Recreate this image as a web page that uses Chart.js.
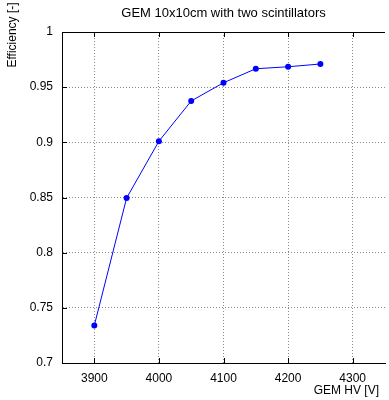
<!DOCTYPE html>
<html>
<head>
<meta charset="utf-8">
<script src="https://cdn.jsdelivr.net/npm/chart.js@4/dist/chart.umd.min.js"></script>
<style>
  html, body { margin: 0; padding: 0; background: #fff; }
  #wrap { width: 389px; height: 400px; }
</style>
</head>
<body>
<div id="wrap"><canvas id="myChart" width="389" height="400"></canvas></div>
<script>
// values
const hvValues = [3900, 3950, 4000, 4050, 4100, 4150, 4200, 4250];
const efficiency = [0.734, 0.8495, 0.901, 0.9375, 0.954, 0.9667, 0.9685, 0.971];
const xTickValues = [3900, 4000, 4100, 4200, 4300];
const yTickValues = [0.7, 0.75, 0.8, 0.85, 0.9, 0.95, 1];

const chartTitle = "GEM 10x10cm with two scintillators";
const xTitle = "GEM HV [V]";
const yTitle = "Efficiency [-]";

const fontName = "'Liberation Sans', Arial, sans-serif";
const gridColor = "#8a8a8a";

// titles, top frame line and the inward tick marks (gnuplot style)
const extrasPlugin = {
    id: "extras",
    afterDraw(chart) {
        const ctx = chart.ctx;
        const a = chart.chartArea;
        const xs = chart.scales.x;
        const ys = chart.scales.y;
        ctx.save();
        ctx.strokeStyle = "#000";
        ctx.lineWidth = 1;
        ctx.beginPath();
        ctx.moveTo(a.left, a.top + 0.5);
        ctx.lineTo(a.right, a.top + 0.5);
        // small ticks
        for (const v of xTickValues) {
            const px = Math.round(xs.getPixelForValue(v)) + 0.5;
            ctx.moveTo(px, a.bottom);
            ctx.lineTo(px, a.bottom - 5);
            ctx.moveTo(px, a.top);
            ctx.lineTo(px, a.top + 5);
        }
        for (const v of yTickValues) {
            const py = Math.round(ys.getPixelForValue(v)) + 0.5;
            ctx.moveTo(a.left, py);
            ctx.lineTo(a.left + 5, py);
        }
        ctx.stroke();

        ctx.fillStyle = "#000";
        ctx.font = "13px " + fontName;
        ctx.textAlign = "center";
        ctx.textBaseline = "middle";
        ctx.fillText(chartTitle, (a.left + a.right) / 2, 13);

        ctx.font = "12px " + fontName;
        ctx.textAlign = "right";
        ctx.fillText(xTitle, 379, 391);

        ctx.translate(13, 35);
        ctx.rotate(-Math.PI / 2);
        ctx.textAlign = "center";
        ctx.fillText(yTitle, 0, 0);
        ctx.restore();
    }
};

new Chart(document.getElementById("myChart"), {
    type: "scatter",
    data: {
        datasets: [{
            label: "efficiency",
            data: hvValues.map((hv, i) => ({x: hv, y: efficiency[i]})),
            showLine: true,
            borderColor: "#0000ff",
            backgroundColor: "#0000ff",
            borderWidth: 1,
            pointRadius: 3,
            pointBorderWidth: 0,
            tension: 0
        }]
    },
    options: {
        responsive: false,
        animation: false,
        events: [],
        layout: { padding: { top: 32, right: 0, left: 0, bottom: 0 } },
        plugins: {
            legend: { display: false },
            title: { display: false },
            tooltip: { enabled: false }
        },
        scales: {
            x: {
                type: "linear",
                min: 3850,
                max: 4350,
                afterBuildTicks: (scale) => {
                    scale.ticks = xTickValues.map(v => ({value: v}));
                },
                afterFit: (scale) => { scale.height = 37; },
                grid: { color: gridColor, lineWidth: 1, drawTicks: false },
                border: { display: true, color: "#000", width: 1, dash: [1, 2] },
                ticks: {
                    color: "#000",
                    font: { family: fontName, size: 12 },
                    padding: 8,
                    maxRotation: 0,
                    callback: (v) => String(v)
                }
            },
            y: {
                min: 0.7,
                max: 1,
                afterBuildTicks: (scale) => {
                    scale.ticks = yTickValues.map(v => ({value: v}));
                },
                afterFit: (scale) => { scale.width = 62; },
                grid: { color: gridColor, lineWidth: 1, drawTicks: false },
                border: { display: true, color: "#000", width: 1, dash: [1, 2] },
                ticks: {
                    color: "#000",
                    font: { family: fontName, size: 12 },
                    padding: 9,
                    callback: (v) => String(Math.round(v * 100) / 100)
                }
            }
        }
    },
    plugins: [extrasPlugin]
});
</script>
</body>
</html>
